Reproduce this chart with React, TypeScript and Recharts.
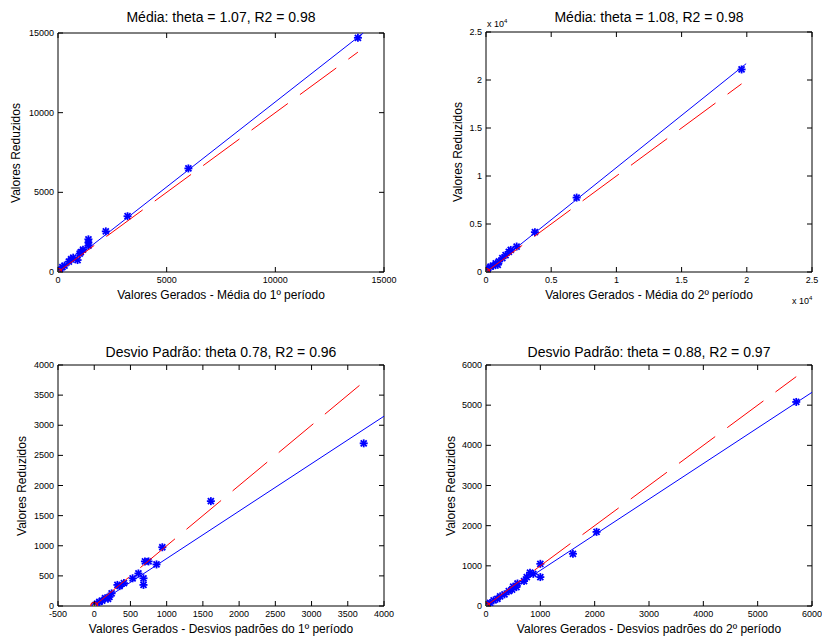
import React from 'react';
import { ScatterChart, Scatter, XAxis, YAxis } from 'recharts';

const FONT = '"Liberation Sans", Arial, Helvetica, sans-serif';
const BLUE = '#0000ff';
const RED = '#ff0000';

// Média - 1º período
const media1X = [13800, 6000, 3200, 2200, 1400, 1400, 1400, 1150, 1050, 1000, 900, 700, 600, 500, 300, 200, 100, 50, 20];
const media1Y = [14700, 6500, 3500, 2550, 2050, 1850, 1650, 1400, 1250, 1150, 750, 900, 800, 650, 400, 300, 150, 80, 30];
const media1FitX = [0, 14050];
const media1FitY = [0, 15000];
const media1RefX = [0, 13800];

// Média - 2º período
const media2X = [19600, 6950, 3750, 2350, 1900, 1750, 1500, 1250, 1000, 900, 750, 550, 350, 150, 80, 30];
const media2Y = [21100, 7750, 4150, 2650, 2300, 2100, 1750, 1450, 1100, 750, 900, 650, 550, 380, 200, 60];
const media2FitX = [0, 19950];
const media2FitY = [0, 21700];
const media2RefX = [0, 19600];

// Desvio padrão - 1º período
const desvio1X = [3720, 1610, 940, 860, 700, 750, 680, 680, 610, 530, 410, 350, 320, 240, 210, 190, 150, 110, 70, 40, 15];
const desvio1Y = [2700, 1740, 975, 690, 740, 740, 460, 350, 540, 460, 380, 330, 350, 210, 150, 120, 130, 90, 70, 40, 15];
const desvio1FitX = [0, 4000];
const desvio1FitY = [0, 3150];
const desvio1RefX = [0, 3720];

// Desvio padrão - 2º período
const desvio2X = [5710, 2035, 1600, 1000, 1000, 870, 810, 750, 700, 580, 560, 500, 480, 420, 340, 260, 210, 140, 75, 35];
const desvio2Y = [5080, 1845, 1300, 1050, 720, 800, 830, 720, 620, 560, 470, 480, 410, 370, 290, 240, 180, 140, 75, 40];
const desvio2FitX = [0, 6000];
const desvio2FitY = [0, 5320];
const desvio2RefX = [0, 5710];

const ticks15k = [0, 5000, 10000, 15000];
const ticks25k = [0, 5000, 10000, 15000, 20000, 25000];
const ticksDesvio1X = [-500, 0, 500, 1000, 1500, 2000, 2500, 3000, 3500, 4000];
const ticksDesvio1Y = [0, 500, 1000, 1500, 2000, 2500, 3000, 3500, 4000];
const ticks6k = [0, 1000, 2000, 3000, 4000, 5000, 6000];

const toPoints = (xs: number[], ys: number[]) => xs.map((x, i) => ({ x, y: ys[i] }));

const Star = ({ cx, cy }: any) => {
  if (cx == null || cy == null) return <g />;
  const r = 4;
  const d = 3;
  return (
    <g stroke={BLUE} strokeWidth={1.8}>
      <line x1={cx - r} y1={cy} x2={cx + r} y2={cy} />
      <line x1={cx} y1={cy - r} x2={cx} y2={cy + r} />
      <line x1={cx - d} y1={cy - d} x2={cx + d} y2={cy + d} />
      <line x1={cx - d} y1={cy + d} x2={cx + d} y2={cy - d} />
    </g>
  );
};

const OriginMark = ({ cx, cy }: any) => {
  if (cx == null || cy == null) return <g />;
  return (
    <g>
      <circle cx={cx} cy={cy} r={3.5} fill="none" stroke={RED} strokeWidth={1.2} />
      <circle cx={cx} cy={cy} r={1.4} fill="#e8e800" />
    </g>
  );
};

const Nothing = () => <g />;

const tickText = { fontSize: 9, fontFamily: FONT, fill: '#000' };

interface PanelProps {
  left: number;
  top: number;
  height: number;
  box: { left: number; top: number; right: number; bottom: number };
  xDomain: [number, number];
  yDomain: [number, number];
  xTicks: number[];
  yTicks: number[];
  fmt?: (v: number) => string;
  points: { x: number; y: number }[];
  fit: { x: number; y: number }[];
  ref1: { x: number; y: number }[];
  title: string;
  xLabel: string;
  titleY: number;
  xLabelY: number;
  yLabelX: number;
  exponent?: boolean;
}

const WIDTH = 411;
const YAXIS_W = 50;
const XAXIS_H = 20;
const FRAME = 2; // size of the top / right frame axes

function Panel({
  left, top, height, box, xDomain, yDomain, xTicks, yTicks,
  fmt = (v) => String(v), points, fit, ref1,
  title, xLabel, titleY, xLabelY, yLabelX, exponent,
}: PanelProps) {
  const cx = (box.left + box.right) / 2;
  const cy = (box.top + box.bottom) / 2;
  const txt = (x: number, y: number, size: number, s: string, rot = false) => (
    <div
      style={{
        position: 'absolute', left: x, top: y,
        transform: `translate(-50%, -50%)${rot ? ' rotate(-90deg)' : ''}`,
        whiteSpace: 'nowrap', fontSize: size, fontFamily: FONT, color: '#000', lineHeight: 1,
      }}
    >
      {s}
    </div>
  );
  return (
    <div style={{ position: 'absolute', left, top, width: WIDTH, height }}>
      <ScatterChart
        width={WIDTH}
        height={height}
        margin={{
          top: box.top - FRAME,
          left: box.left - YAXIS_W,
          right: WIDTH - box.right - FRAME,
          bottom: height - box.bottom - XAXIS_H,
        }}
      >
        <XAxis
          xAxisId={0}
          type="number"
          dataKey="x"
          domain={xDomain}
          ticks={xTicks}
          interval={0}
          allowDataOverflow
          height={XAXIS_H}
          tickSize={0}
          tickMargin={0}
          tickLine={false}
          axisLine={{ stroke: '#000' }}
          tick={(p: any) => (
            <g>
              <line x1={p.x} y1={p.y} x2={p.x} y2={p.y - 5} stroke="#000" />
              <text x={p.x} y={p.y + 11} textAnchor="middle" {...tickText}>{fmt(p.payload.value)}</text>
            </g>
          )}
        />
        <XAxis
          xAxisId="top"
          orientation="top"
          type="number"
          dataKey="x"
          domain={xDomain}
          ticks={xTicks}
          interval={0}
          allowDataOverflow
          height={FRAME}
          tickSize={0}
          tickMargin={0}
          tickLine={false}
          axisLine={{ stroke: '#000' }}
          tick={(p: any) => <line x1={p.x} y1={p.y} x2={p.x} y2={p.y + 5} stroke="#000" />}
        />
        <YAxis
          yAxisId={0}
          type="number"
          dataKey="y"
          domain={yDomain}
          ticks={yTicks}
          interval={0}
          allowDataOverflow
          width={YAXIS_W}
          tickSize={0}
          tickMargin={0}
          tickLine={false}
          axisLine={{ stroke: '#000' }}
          tick={(p: any) => (
            <g>
              <line x1={p.x} y1={p.y} x2={p.x + 5} y2={p.y} stroke="#000" />
              <text x={p.x - 4} y={p.y + 3} textAnchor="end" {...tickText}>{fmt(p.payload.value)}</text>
            </g>
          )}
        />
        <YAxis
          yAxisId="right"
          orientation="right"
          type="number"
          dataKey="y"
          domain={yDomain}
          ticks={yTicks}
          interval={0}
          allowDataOverflow
          width={FRAME}
          tickSize={0}
          tickMargin={0}
          tickLine={false}
          axisLine={{ stroke: '#000' }}
          tick={(p: any) => <line x1={p.x} y1={p.y} x2={p.x - 5} y2={p.y} stroke="#000" />}
        />
        {/* invisible series so the top/right frame axes get a scale */}
        <Scatter xAxisId="top" yAxisId="right" data={points} shape={<Nothing />} isAnimationActive={false} />
        <Scatter xAxisId={0} yAxisId={0} data={points} shape={<Star />} isAnimationActive={false} />
        <Scatter
          xAxisId={0}
          yAxisId={0}
          data={fit}
          line={{ stroke: BLUE, strokeWidth: 1 }}
          shape={<Nothing />}
          isAnimationActive={false}
        />
        <Scatter
          xAxisId={0}
          yAxisId={0}
          data={ref1}
          line={{ stroke: RED, strokeWidth: 1, strokeDasharray: '45 15' }}
          shape={<Nothing />}
          isAnimationActive={false}
        />
        <Scatter xAxisId={0} yAxisId={0} data={[{ x: 0, y: 0 }]} shape={<OriginMark />} isAnimationActive={false} />
      </ScatterChart>
      {txt(cx, titleY, 14, title)}
      {txt(cx, xLabelY, 12, xLabel)}
      {txt(yLabelX, cy, 12, 'Valores Reduzidos', true)}
      {exponent && (
        <>
          <div style={{ position: 'absolute', left: box.left + 1, top: box.top - 14, fontSize: 9, fontFamily: FONT, whiteSpace: 'nowrap', lineHeight: 1 }}>
            x 10<sup style={{ fontSize: 6 }}>4</sup>
          </div>
          <div style={{ position: 'absolute', left: box.right - 20, top: box.bottom + 23, fontSize: 9, fontFamily: FONT, whiteSpace: 'nowrap', lineHeight: 1 }}>
            x 10<sup style={{ fontSize: 6 }}>4</sup>
          </div>
        </>
      )}
    </div>
  );
}

const refLine = (xs: number[]) => toPoints(xs, xs);

export default function App() {
  return (
    <div style={{ position: 'absolute', left: 0, top: 0, width: 822, height: 637, background: '#fff', overflow: 'hidden' }}>
      <Panel
        left={0}
        top={0}
        height={320}
        box={{ left: 58, top: 33, right: 384, bottom: 272 }}
        xDomain={[0, 15000]}
        yDomain={[0, 15000]}
        xTicks={ticks15k}
        yTicks={ticks15k}
        points={toPoints(media1X, media1Y)}
        fit={toPoints(media1FitX, media1FitY)}
        ref1={refLine(media1RefX)}
        title="Média: theta = 1.07, R2 = 0.98"
        xLabel="Valores Gerados - Média do 1º período"
        titleY={17}
        xLabelY={295}
        yLabelX={16}
      />
      <Panel
        left={411}
        top={0}
        height={320}
        box={{ left: 75, top: 32, right: 401, bottom: 272 }}
        xDomain={[0, 25000]}
        yDomain={[0, 25000]}
        xTicks={ticks25k}
        yTicks={ticks25k}
        fmt={(v) => String(v / 10000)}
        points={toPoints(media2X, media2Y)}
        fit={toPoints(media2FitX, media2FitY)}
        ref1={refLine(media2RefX)}
        title="Média: theta = 1.08, R2 = 0.98"
        xLabel="Valores Gerados - Média do 2º período"
        titleY={17}
        xLabelY={295}
        yLabelX={47}
        exponent
      />
      <Panel
        left={0}
        top={320}
        height={317}
        box={{ left: 58, top: 45, right: 384, bottom: 286 }}
        xDomain={[-500, 4000]}
        yDomain={[0, 4000]}
        xTicks={ticksDesvio1X}
        yTicks={ticksDesvio1Y}
        points={toPoints(desvio1X, desvio1Y)}
        fit={toPoints(desvio1FitX, desvio1FitY)}
        ref1={refLine(desvio1RefX)}
        title="Desvio Padrão: theta 0.78, R2 = 0.96"
        xLabel="Valores Gerados - Desvios padrões do 1º período"
        titleY={32}
        xLabelY={309}
        yLabelX={22}
      />
      <Panel
        left={411}
        top={320}
        height={317}
        box={{ left: 75, top: 45, right: 401, bottom: 286 }}
        xDomain={[0, 6000]}
        yDomain={[0, 6000]}
        xTicks={ticks6k}
        yTicks={ticks6k}
        points={toPoints(desvio2X, desvio2Y)}
        fit={toPoints(desvio2FitX, desvio2FitY)}
        ref1={refLine(desvio2RefX)}
        title="Desvio Padrão: theta = 0.88, R2 = 0.97"
        xLabel="Valores Gerados - Desvios padrões do 2º período"
        titleY={32}
        xLabelY={309}
        yLabelX={40}
      />
    </div>
  );
}
